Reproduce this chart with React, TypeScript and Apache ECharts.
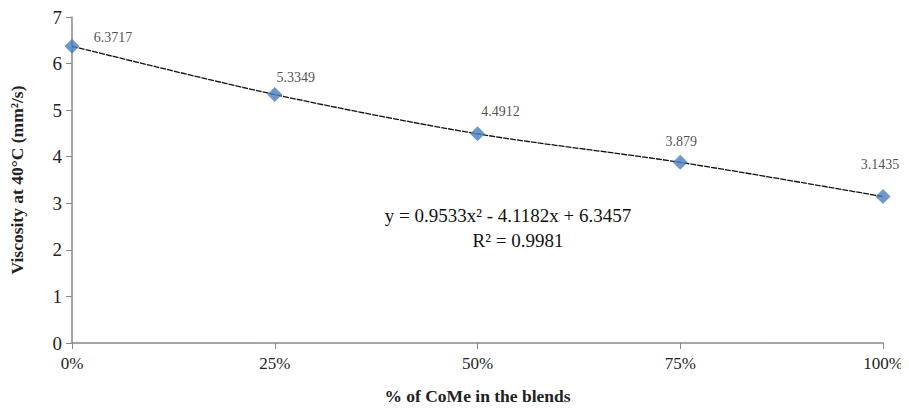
import React, { useEffect, useRef } from "react";
import * as echarts from "echarts";

const xValues = [0, 0.25, 0.5, 0.75, 1];
const viscosity = [6.3717, 5.3349, 4.4912, 3.879, 3.1435];
const labels = ["6.3717", "5.3349", "4.4912", "3.879", "3.1435"];
const xTicks = ["0%", "25%", "50%", "75%", "100%"];
const equation = "y = 0.9533x² - 4.1182x + 6.3457";
const rSquared = "R² = 0.9981";

const labelOffsets = [
  [41, -9],
  [21, -17],
  [23, -22],
  [1, -21],
  [-3, -32],
];

export default function App() {
  const ref = useRef<HTMLDivElement>(null);
  useEffect(() => {
    if (!ref.current) return;
    const chart = echarts.init(ref.current, undefined, { renderer: "svg" });
    const font = "'Liberation Serif', 'Times New Roman', serif";
    const points = xValues.map((x, i) => [x, viscosity[i]]);
    chart.setOption({
      animation: false,
      textStyle: { fontFamily: font },
      grid: { left: 72, right: 26, top: 17, bottom: 65 },
      xAxis: {
        type: "value",
        min: 0,
        max: 1,
        interval: 0.25,
        axisLine: { show: true, lineStyle: { color: "#888", width: 1.5 } },
        axisTick: { show: true, length: 6, lineStyle: { color: "#888" } },
        splitLine: { show: false },
        axisLabel: {
          color: "#222",
          fontSize: 17,
          fontFamily: font,
          margin: 12,
          formatter: (v: number) => xTicks[Math.round(v / 0.25)] ?? "",
        },
        name: "% of CoMe in the blends",
        nameLocation: "middle",
        nameGap: 44,
        nameTextStyle: { fontSize: 17.5, fontWeight: "bold", color: "#222", fontFamily: font },
      },
      yAxis: {
        type: "value",
        min: 0,
        max: 7,
        interval: 1,
        axisLine: { show: true, lineStyle: { color: "#888", width: 1.5 } },
        axisTick: { show: true, length: 6, lineStyle: { color: "#888" } },
        splitLine: { show: false },
        axisLabel: { color: "#222", fontSize: 19, fontFamily: font, margin: 10 },
        name: "Viscosity at 40°C (mm²/s)",
        nameLocation: "middle",
        nameGap: 46,
        nameTextStyle: { fontSize: 17.5, fontWeight: "bold", color: "#222", fontFamily: font },
      },
      series: [
        {
          type: "line",
          data: points,
          smooth: 0.3,
          symbol: "none",
          lineStyle: { color: "#111", width: 1.3, type: [6, 1] },
          z: 2,
        },
        {
          type: "scatter",
          data: points.map((p, i) => ({
            value: p,
            label: { offset: labelOffsets[i] },
          })),
          symbol: "diamond",
          symbolSize: 15,
          itemStyle: { color: "#4A7EBB" },
          z: 3,
          label: {
            show: true,
            fontFamily: font,
            fontSize: 14,
            color: "#222",
            formatter: (p: any) => labels[p.dataIndex],
            position: "inside",
          },
        },
      ],
      graphic: [
        {
          type: "text",
          x: 508,
          y: 215,
          style: {
            text: equation,
            fontFamily: font,
            fontSize: 19,
            fill: "#111",
            align: "center",
            verticalAlign: "middle",
          },
        },
        {
          type: "text",
          x: 518,
          y: 240,
          style: {
            text: rSquared,
            fontFamily: font,
            fontSize: 19,
            fill: "#111",
            align: "center",
            verticalAlign: "middle",
          },
        },
      ],
    });
    return () => chart.dispose();
  }, []);
  return <div ref={ref} style={{ width: 909, height: 410, margin: -8 }} />;
}
